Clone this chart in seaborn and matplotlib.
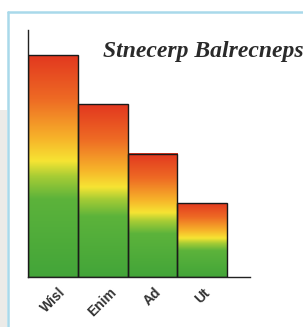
import numpy as np
import pandas as pd
import matplotlib
matplotlib.use('Agg')
import matplotlib.pyplot as plt
import matplotlib.patches as mpatches
from matplotlib.colors import LinearSegmentedColormap
import seaborn as sns

categories = ['Wisl', 'Enim', 'Ad', 'Ut']
values = [9, 7, 5, 3]
title = 'Stnecerp Balrecneps'

df = pd.DataFrame({'cat': categories, 'val': values})

sns.set_style('white')

W, H = 303, 327
fig = plt.figure(figsize=(W / 100, H / 100), dpi=100)
fig.patch.set_facecolor('white')

# gray strip and light blue frame
fig.patches.append(mpatches.Rectangle((0, 0), 7 / W, 1 - 110 / H, transform=fig.transFigure,
                                      facecolor='#ecebe8', edgecolor='none', zorder=0))
fig.lines.append(plt.Line2D([7.5 / W, 7.5 / W], [0, 1 - 12 / H], transform=fig.transFigure,
                            color='#a9d9ea', lw=1.8))
fig.lines.append(plt.Line2D([7.5 / W, 1], [1 - 12 / H, 1 - 12 / H], transform=fig.transFigure,
                            color='#a9d9ea', lw=1.8))

ax = fig.add_axes([28 / W, 1 - 277 / H, (250 - 28) / W, (277 - 30) / H])
ax.set_facecolor('none')

sns.barplot(data=df, x='cat', y='val', ax=ax, width=1.0,
            edgecolor='#1a1a1a', linewidth=1.0, zorder=3)

# green -> yellow -> red fill inside each bar
cmap = LinearSegmentedColormap.from_list('gyr', [
    (0.0, '#43a539'), (0.35, '#5cb33b'), (0.45, '#a6cc35'), (0.52, '#f6e433'),
    (0.62, '#f7b42a'), (0.8, '#ee6a24'), (1.0, '#e2371f')])
grad = np.linspace(0, 1, 256).reshape(-1, 1)
for p in list(ax.patches):
    p.set_facecolor('none')
    x0, y0 = p.get_x(), p.get_y()
    w, h = p.get_width(), p.get_height()
    im = ax.imshow(grad, cmap=cmap, origin='lower', aspect='auto',
                   extent=(x0, x0 + w, y0, y0 + h), zorder=2)
    im.set_clip_path(p)

ax.set_xlim(-0.5, 3.96)
ax.set_ylim(0, 10)
ax.set_xlabel('')
ax.set_ylabel('')
ax.set_yticks([])
ax.tick_params(axis='x', length=0, pad=6)
ax.set_xticks(range(len(categories)))
ax.set_xticklabels(categories, rotation=45, ha='center', fontsize=10,
                   fontweight='bold', color='#333333', family='Liberation Sans')
for s in ['top', 'right']:
    ax.spines[s].set_visible(False)
for s in ['left', 'bottom']:
    ax.spines[s].set_color('#222222')
    ax.spines[s].set_linewidth(1.0)

fig.text(103 / W, 1 - 57 / H, title, fontsize=17, style='italic', fontweight='bold',
         family='Liberation Serif', color='#2a2a2a', ha='left', va='baseline')

fig.savefig('out.png', dpi=100, facecolor='white')
